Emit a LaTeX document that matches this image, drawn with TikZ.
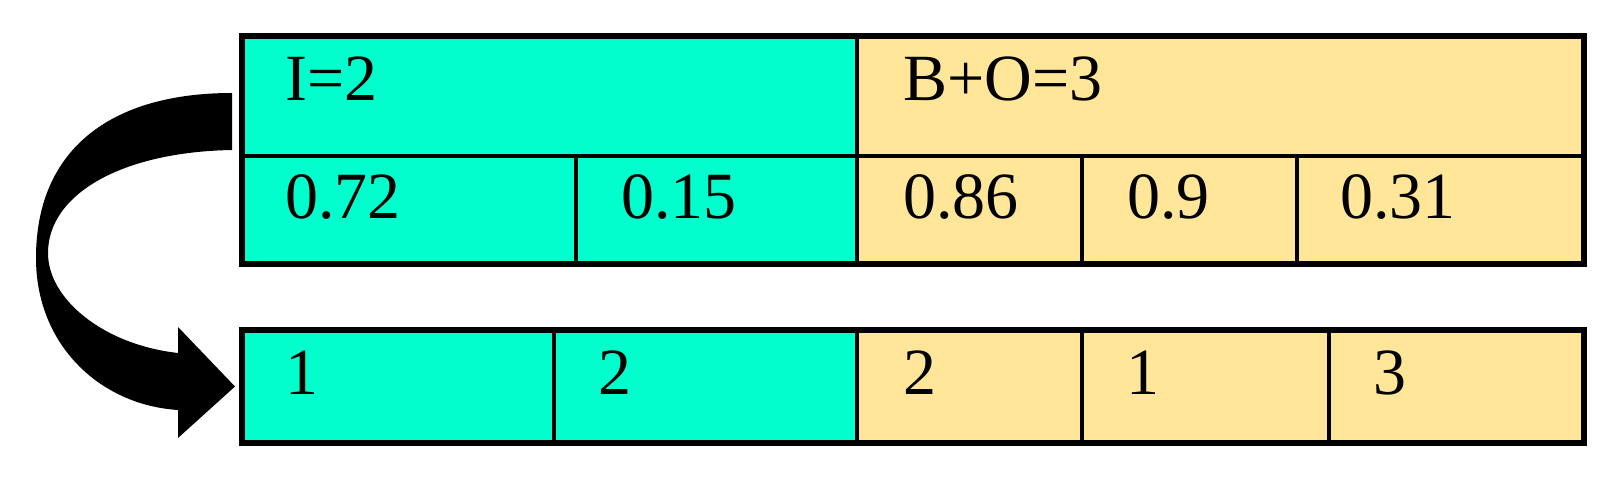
\documentclass[tikz,border=0pt]{standalone}
\usepackage{fontspec}
\setmainfont{Liberation Serif}
\usetikzlibrary{calc}
\definecolor{cellteal}{HTML}{00FFCC}
\definecolor{cellgold}{HTML}{FFE699}
\begin{document}
\begin{tikzpicture}[x=0.5pt,y=-0.5pt,
  cell/.style={draw=black, line width=2.2pt, inner sep=0pt, outer sep=0pt, anchor=north west},
  tealcell/.style={cell, fill=cellteal},
  goldcell/.style={cell, fill=cellgold},
  outerframe/.style={draw=black, line width=2.8pt},
  lbl/.style={inner sep=0pt, anchor=base west, font=\fontsize{33pt}{39pt}\selectfont},
  bigarrow/.style={fill=black}]
\useasboundingbox (0,0) rectangle (1608,491);
% top row
\node[tealcell, minimum width=307.5pt, minimum height=60pt] (i) at (242,36) {};
\node[goldcell, minimum width=363.5pt, minimum height=60pt] (bo) at (857,36) {};
% second row
\node[tealcell, minimum width=167pt, minimum height=54pt] (r1) at (242,156) {};
\node[tealcell, minimum width=140.5pt, minimum height=54pt] (r2) at (576,156) {};
\node[goldcell, minimum width=112.5pt, minimum height=54pt] (r3) at (857,156) {};
\node[goldcell, minimum width=107.5pt, minimum height=54pt] (r4) at (1082,156) {};
\node[goldcell, minimum width=143.5pt, minimum height=54pt] (r5) at (1297,156) {};
% bottom row
\node[tealcell, minimum width=156pt, minimum height=56.5pt] (b1) at (242,330) {};
\node[tealcell, minimum width=151.5pt, minimum height=56.5pt] (b2) at (554,330) {};
\node[goldcell, minimum width=112.5pt, minimum height=56.5pt] (b3) at (857,330) {};
\node[goldcell, minimum width=123.5pt, minimum height=56.5pt] (b4) at (1082,330) {};
\node[goldcell, minimum width=127.5pt, minimum height=56.5pt] (b5) at (1329,330) {};
% outer frames
\draw[outerframe] (i.north west) rectangle (r5.south east);
\draw[outerframe] (b1.north west) rectangle (b5.south east);
% labels
\node[lbl] (ti) at ($(i.north west)+(43,65)$) {I=2};
\node[lbl] (tbo) at ($(bo.north west)+(46,65)$) {B+O=3};
\node[lbl] (t1) at ($(r1.north west)+(43,63)$) {0.72};
\node[lbl] (t2) at ($(r2.north west)+(45,63)$) {0.15};
\node[lbl] (t3) at ($(r3.north west)+(46,63)$) {0.86};
\node[lbl] (t4) at ($(r4.north west)+(45,63)$) {0.9};
\node[lbl] (t5) at ($(r5.north west)+(43,63)$) {0.31};
\node[lbl] (u1) at ($(b1.north west)+(43,65)$) {1};
\node[lbl] (u2) at ($(b2.north west)+(44,65)$) {2};
\node[lbl] (u3) at ($(b3.north west)+(46,65)$) {2};
\node[lbl] (u4) at ($(b4.north west)+(44,65)$) {1};
\node[lbl] (u5) at ($(b5.north west)+(44,65)$) {3};
% curved arrow
\coordinate (tip) at ($(b1.west)+(-7,0)$);
\fill[bigarrow] (232,93) .. controls (110,93) and (36,150) .. (36,258)
  .. controls (36,345) and (100,405) .. (178,410) -- (178,438) -- (tip)
  -- (178,327) -- (178,353) .. controls (105,345) and (48,300) .. (48,253)
  .. controls (48,195) and (120,152) .. (232,150) -- cycle;
\end{tikzpicture}
\end{document}
